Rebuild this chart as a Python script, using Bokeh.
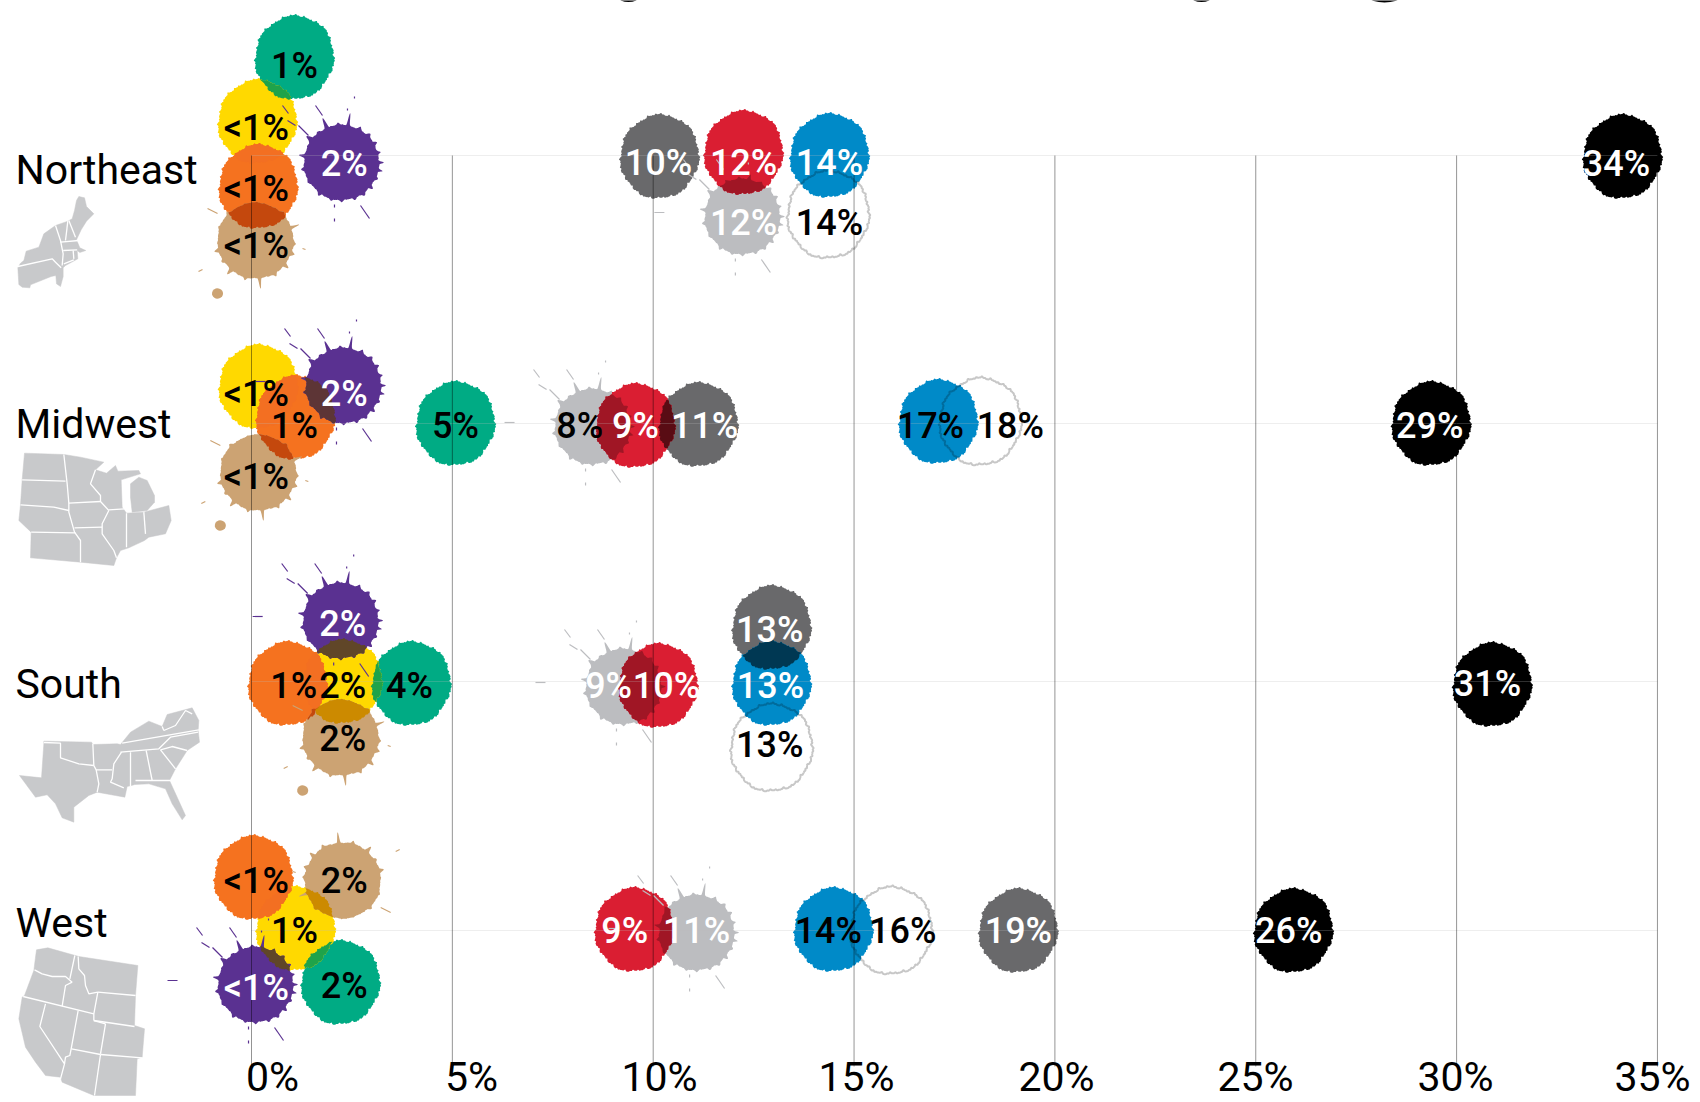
import numpy as np
from bokeh.plotting import figure
from bokeh.models import Range1d
from bokeh.core.properties import value
from bokeh.embed import file_html
from bokeh.resources import INLINE

# ---------- data ----------
series = ["green", "yellow", "orange", "tan", "purple", "ltgray", "gray", "red", "blue", "white", "black"]
regions = ["Northeast", "Midwest", "South", "West"]
tick_values = [0, 5, 10, 15, 20, 25, 30, 35]
tick_labels = ["0%", "5%", "10%", "15%", "20%", "25%", "30%", "35%"]

labels_ne = ["1%", "<1%", "<1%", "<1%", "2%", "12%", "10%", "12%", "14%", "14%", "34%"]
labels_mw = ["5%", "<1%", "1%", "<1%", "2%", "8%", "11%", "9%", "17%", "18%", "29%"]
labels_so = ["4%", "2%", "1%", "2%", "2%", "9%", "13%", "10%", "13%", "13%", "31%"]
labels_we = ["2%", "1%", "<1%", "2%", "<1%", "11%", "19%", "9%", "14%", "16%", "26%"]

values_ne = [1.07, 0.15, 0.17, 0.10, 2.24, 12.22, 10.16, 12.25, 14.39, 14.36, 34.13]
values_mw = [5.08, 0.17, 1.10, 0.17, 2.29, 8.49, 11.13, 9.56, 17.10, 18.15, 29.37]
values_so = [3.98, 2.27, 0.90, 2.22, 2.22, 9.26, 12.95, 10.13, 12.95, 12.95, 30.89]
values_we = [2.22, 1.10, 0.05, 2.27, 0.10, 11.08, 19.09, 9.53, 14.49, 15.93, 25.94]

# ---------- layout ----------
ROWS = [labels_ne, labels_mw, labels_so, labels_we]
VALS = [values_ne, values_mw, values_so, values_we]
BLOB_Y = [
    [57, 121, 186, 240, 162, 216, 156, 152, 155, 214, 156],
    [423, 386, 417, 472, 385, 426, 424, 425, 421, 421, 423],
    [683, 681, 683, 737, 620, 686, 627, 685, 683, 747, 684],
    [982, 928, 877, 880, 984, 932, 930, 929, 929, 930, 930],
]
LABEL_X = [
    [1.07, 0.12, 0.12, 0.12, 2.31, 12.25, 10.13, 12.25, 14.39, 14.39, 33.98],
    [5.08, 0.12, 1.07, 0.12, 2.31, 8.17, 11.28, 9.56, 16.90, 18.89, 29.33],
    [3.93, 2.27, 1.05, 2.27, 2.27, 8.89, 12.90, 10.33, 12.92, 12.90, 30.77],
    [2.31, 1.07, 0.12, 2.31, 0.12, 11.08, 19.09, 9.29, 14.36, 16.21, 25.82],
]
LABEL_Y = [
    [65, 127, 188, 245, 163, 222, 162, 162, 162, 222, 163],
    [425, 393, 425, 476, 393, 425, 425, 425, 425, 425, 425],
    [685, 685, 685, 738, 623, 685, 629, 685, 685, 744, 683],
    [985, 930, 880, 880, 987, 930, 930, 930, 930, 930, 930],
]
K, W = "black", "white"
LABEL_C = [
    [K, K, K, K, W, W, W, W, W, K, W],
    [K, K, K, K, W, K, W, W, K, K, W],
    [K, K, K, K, W, W, W, W, W, K, W],
    [K, K, K, K, W, W, W, W, K, K, W],
]
COL = dict(green="#00AB84", yellow="#FFD900", orange="#F5721F", tan="#CCA373", purple="#5A3191",
           ltgray="#BCBDC0", gray="#69696B", red="#DA1E32", blue="#008AC8", white="#FFFFFF", black="#000000")
OVERLAP_FIX = {("yellow", "orange"): "#F36F22", ("green", "yellow"): "#1FA34A"}
BASE_Y = [155, 423, 681, 930]
REGION_BASE = [183, 437, 697, 936]
TICK_CENTER_PX = [272, 471, 659, 856, 1056, 1255, 1455, 1652]
TICK_Y = 1076
X0, PXU = 251.0, 40.17
GREY_MAP = "#C8C9CB"
BASE_SHIFT_VAL = 12
BASE_SHIFT_BIG = 14


def xu(px):
    return (np.asarray(px, float) - X0) / PXU


def rgb(h):
    return np.array([int(h[i:i + 2], 16) for i in (1, 3, 5)], float)


def multiply(a, b):
    if (a, b) in OVERLAP_FIX:
        return OVERLAP_FIX[(a, b)]
    c = rgb(COL[a]) * rgb(COL[b]) / 255
    if "purple" in (a, b):
        c = c * 0.85 + np.array([20, 35, 40])
    return "#%02X%02X%02X" % tuple(int(v) for v in c)


# ---------- blot shapes (pixels round the centre) ----------
T = np.linspace(-np.pi, np.pi, 720, endpoint=False)


def rough(t, amp=1.0):
    return amp * (0.55 * np.sin(23 * t) + 0.5 * np.sin(37 * t + 1) + 0.4 * np.sin(61 * t + 2)
                  + 0.3 * np.sin(97 * t) + 0.9 * np.sin(7 * t + 0.5))


def spikes(t, lst):
    r = np.zeros_like(t)
    for a, ln, w in lst:
        d = (t - np.radians(a) + np.pi) % (2 * np.pi) - np.pi
        r += ln * np.exp(-(d / np.radians(w)) ** 2)
    return r


PURPLE_SPIKES = [(-80, 13, 1.6), (-113, 11, 2.2), (-143, 6, 3), (-62, 3.5, 2.5), (-45, 3, 2.5), (-30, 3, 2.5), (-15, 3.5, 2),
                 (0, 4.5, 1.8), (12, 4, 1.8), (25, 3, 2.5), (40, 3.5, 2.5), (55, 3, 2.5), (70, 2, 3), (90, 2.5, 3), (105, 2, 3),
                 (125, 3, 2.5), (150, 2, 3), (170, 3.5, 2.5), (-170, 6, 2), (-95, 2, 3), (-128, 2, 3)]
TAN_SPIKES = [(84, 11, 1.6), (-20, 9, 1.6), (165, 4, 2.5), (130, 6, 2.5), (40, 5, 2.5), (20, 3, 2.5), (60, 3, 2.5), (105, 3, 2.5),
              (148, 2, 3), (-160, 2, 3), (-135, 2, 3), (-45, 2, 3), (5, 2, 3)]
PURPLE_STREAKS = [[(-26, -57), (-19, -47)], [(-54, -42), (-46, -37)], [(-43, -37), (-33, -27)],
                  [(-59, -57), (-53, -49)], [(6, -54), (6, -52)], [(13, -66), (13, -64)], [(19, 43), (28, 56)],
                  [(-7, 42), (-7, 45)], [(-7, 56), (-7, 59)], [(-88, -4), (-78, -4)]]
TAN_STREAKS = [[(-48, -32), (-38, -27)], [(-57, 31), (-53, 29)], [(47, 8), (50, 9)]]


def sprite(name):
    if name in ("purple", "ltgray"):
        r = 37.5 + rough(T, 0.35) + spikes(T, PURPLE_SPIKES)
    elif name == "tan":
        r = 38 + rough(T, 0.35) + spikes(T, TAN_SPIKES)
    elif name == "white":
        r = 42 + 1.5 * np.cos(2 * (T + 1.4)) + rough(T, 0.8)
    else:
        r = 40.6 + 1.4 * np.cos(2 * (T + 1.35)) + rough(T, 0.85)
    return r * np.cos(T), r * np.sin(T)


def exit_t(ox, oy, dx, dy, px, py):
    """Distance to the first crossing along a ray, and the number of crossings."""
    qx, qy = np.roll(px, -1) - px, np.roll(py, -1) - py
    den = dx * qy - dy * qx
    den = np.where(np.abs(den) < 1e-12, 1e-12, den)
    t = ((px - ox) * qy - (py - oy) * qx) / den
    u = ((px - ox) * dy - (py - oy) * dx) / den
    ok = (t > 0) & (u >= 0) & (u < 1)
    return (t[ok].min() if ok.any() else 0.0), int(ok.sum())


def overlap(a, b):
    ax, ay = a
    bx, by = b
    cax, cay, cbx, cby = ax.mean(), ay.mean(), bx.mean(), by.mean()
    d = np.hypot(cbx - cax, cby - cay)
    if d > 82 or d < 1e-6:
        return None
    f = (40 + (d - 40)) / 2 / d
    ox, oy = cax + (cbx - cax) * f, cay + (cby - cay) * f
    xs, ys = [], []
    for th in np.linspace(0, 2 * np.pi, 180, endpoint=False):
        dx, dy = np.cos(th), np.sin(th)
        t1, n1 = exit_t(ox, oy, dx, dy, ax, ay)
        t2, n2 = exit_t(ox, oy, dx, dy, bx, by)
        if n1 % 2 == 0 or n2 % 2 == 0:
            return None
        t = min(t1, t2)
        xs.append(ox + t * dx)
        ys.append(oy + t * dy)
    return np.array(xs), np.array(ys)


# ---------- region silhouettes, page pixels (zoom-crop scale 3) ----------
def zoomed(pts, ox, oy, s=3.0):
    a = np.array(pts, float)
    return ox + a[:, 0] / s, oy + a[:, 1] / s


NE_OUT = [(205, 18), (222, 22), (228, 48), (250, 70), (228, 92), (212, 118), (198, 148), (208, 172), (226, 180), (208, 186),
          (200, 180), (202, 205), (165, 225), (158, 232), (158, 258), (150, 288), (138, 280), (136, 255), (122, 258),
          (60, 283), (58, 292), (35, 290), (25, 282), (22, 232), (30, 218), (40, 210), (47, 182), (85, 170), (100, 130),
          (135, 105), (172, 92), (185, 85), (192, 60), (198, 30)]
NE_SEP = [[(22, 228), (125, 205), (135, 215), (152, 232)], [(135, 105), (150, 150), (158, 190), (155, 225)],
          [(172, 92), (165, 150)], [(175, 90), (195, 140)], [(150, 155), (205, 150)], [(158, 180), (200, 178)],
          [(188, 180), (190, 205)], [(160, 220), (190, 208)]]
MW_OUT = [(72, 398), (190, 402), (240, 410), (310, 425), (285, 448), (318, 458), (345, 435), (352, 452), (415, 450),
          (420, 460), (362, 478), (365, 560), (378, 578), (430, 575), (505, 555), (512, 600), (495, 640), (445, 650),
          (432, 660), (385, 682), (360, 690), (348, 712), (340, 735), (240, 725), (90, 712), (92, 635), (55, 600),
          (60, 553), (65, 478)]
MW_MICH = [(390, 490), (415, 470), (440, 480), (462, 525), (462, 545), (440, 570), (395, 575), (390, 530)]
MW_SEP = [[(65, 478), (195, 482)], [(60, 553), (160, 560), (205, 570)], [(92, 635), (225, 637)], [(205, 548), (300, 543)],
          [(190, 402), (200, 490), (205, 548), (205, 575), (222, 635), (240, 660), (240, 725)], [(222, 622), (305, 620)],
          [(285, 448), (270, 490), (300, 525), (300, 543), (325, 570)], [(325, 568), (372, 565)],
          [(325, 570), (305, 610), (305, 640), (340, 690), (348, 712)], [(378, 578), (378, 680)], [(430, 575), (435, 640)]]
SO_OUT = [(85, 122), (228, 125), (232, 132), (305, 130), (315, 132), (345, 95), (400, 62), (440, 78), (455, 42), (500, 30),
          (530, 22), (550, 60), (548, 90), (552, 125), (515, 150), (480, 205), (462, 240), (510, 345), (500, 358),
          (470, 310), (450, 265), (400, 250), (358, 252), (348, 255), (335, 258), (328, 290), (300, 285), (245, 275),
          (220, 285), (175, 320), (175, 365), (140, 352), (120, 310), (95, 283), (60, 290), (12, 225), (78, 232), (85, 130)]
SO_SEP = [[(85, 126), (135, 128), (135, 172), (190, 190), (235, 195)], [(232, 130), (235, 195), (242, 208), (250, 250), (245, 275)],
          [(242, 208), (290, 208)], [(318, 155), (295, 190), (290, 235), (285, 245), (325, 262)], [(345, 155), (345, 258)],
          [(392, 150), (410, 240)], [(360, 240), (465, 240)], [(435, 148), (480, 205)], [(320, 128), (550, 88)],
          [(315, 155), (430, 145), (465, 110), (548, 95)], [(435, 148), (470, 138), (515, 150)], [(440, 78), (445, 90)],
          [(445, 90), (480, 75), (510, 30), (530, 40)]]
WE_OUT = [(112, 22), (205, 48), (382, 75), (375, 165), (372, 255), (402, 265), (395, 350), (380, 355), (375, 465), (250, 465),
          (155, 425), (150, 410), (105, 405), (75, 365), (45, 320), (25, 235), (35, 170), (42, 165), (70, 90), (75, 50), (78, 28)]
WE_SEP = [[(72, 88), (95, 100), (125, 108), (165, 108), (185, 125)], [(193, 45), (178, 115)],
          [(185, 125), (165, 135), (155, 197)], [(203, 48), (205, 85), (222, 105), (225, 135), (235, 160), (262, 155)],
          [(262, 155), (375, 165)], [(262, 155), (250, 220), (250, 240)], [(38, 168), (250, 220)],
          [(105, 190), (88, 258), (162, 370), (150, 415)], [(203, 210), (182, 325), (178, 345), (165, 350), (162, 370)],
          [(250, 240), (285, 250)], [(285, 250), (270, 340)], [(250, 240), (372, 258)], [(183, 325), (270, 342)],
          [(270, 342), (395, 352)], [(270, 342), (252, 465)]]
MAPS = [(NE_OUT, NE_SEP, 10, 190, None), (MW_OUT, MW_SEP, 0, 320, MW_MICH), (SO_OUT, SO_SEP, 15, 700, None), (WE_OUT, WE_SEP, 10, 940, None)]

# ---------- figure ----------
p = figure(width=1700, height=1102, output_backend="svg", toolbar_location=None, min_border=0,
           x_range=Range1d(float(xu(0)), float(xu(1700))), y_range=Range1d(1102, 0),
           x_axis_type="linear", outline_line_color=None, background_fill_color="white", border_fill_color="white")
p.axis.visible = False
p.grid.visible = False

# maps
mx, my, sx, sy = [], [], [], []
for out, sep, ox, oy, extra in MAPS:
    a, b = zoomed(out, ox, oy)
    mx.append(xu(a)); my.append(b)
    if extra:
        a, b = zoomed(extra, ox, oy)
        mx.append(xu(a)); my.append(b)
    for s in sep:
        a, b = zoomed(s, ox, oy)
        sx.append(xu(a)); sy.append(b)
p.patches(mx, my, fill_color=GREY_MAP, line_color=GREY_MAP, line_width=0.5)
p.multi_line(sx, sy, line_color="white", line_width=1.3)

# blots
fx, fy, fc, lx, ly, lc, dx, dy, dc, ox_, oy_, oc, wx, wy = [], [], [], [], [], [], [], [], [], [], [], [], [], []
for ri, (labs, vals) in enumerate(zip(ROWS, VALS)):
    shapes = {}
    for si, name in enumerate(series):
        cx = X0 + vals[si] * PXU
        cy = BLOB_Y[ri][si]
        flip = -1.0 if (name == "tan" and ri == 3) else 1.0
        sxs, sys = sprite(name)
        px_, py_ = cx + flip * sxs, cy + flip * sys
        if name == "white":
            wx.append(xu(px_)); wy.append(py_)
            continue
        shapes[name] = (px_, py_)
        fx.append(xu(px_)); fy.append(py_); fc.append(COL[name])
        if name in ("purple", "ltgray"):
            st = PURPLE_STREAKS
        elif name == "tan":
            st = TAN_STREAKS
            if ri != 3:
                th = np.linspace(0, 2 * np.pi, 24)
                dx.append(xu(cx + flip * (-38 + 5.5 * np.cos(th)))); dy.append(cy + flip * (53 + 5.2 * np.sin(th))); dc.append(COL[name])
        else:
            st = []
        for seg in st:
            a = np.array(seg, float)
            lx.append(xu(cx + flip * a[:, 0])); ly.append(cy + flip * a[:, 1]); lc.append(COL[name])
    names = list(shapes)
    for i in range(len(names)):
        for j in range(i + 1, len(names)):
            res = overlap(shapes[names[i]], shapes[names[j]])
            if res is not None:
                ox_.append(xu(res[0])); oy_.append(res[1]); oc.append(multiply(names[i], names[j]))

p.patches(fx, fy, fill_color=fc, line_color=None)
p.patches(dx, dy, fill_color=dc, line_color=None)
p.multi_line(lx, ly, line_color=lc, line_width=1.2)
p.patches(ox_, oy_, fill_color=oc, line_color=None)
p.patches(wx, wy, fill_alpha=0, line_color="black", line_alpha=0.22, line_width=2)

# rules
p.segment(x0=[0] * 4, x1=[35] * 4, y0=BASE_Y, y1=BASE_Y, line_color="#BDBDBD", line_alpha=0.25, line_width=1)
p.segment(x0=tick_values, x1=tick_values, y0=[155] * 8, y1=[1066] * 8, line_color="black", line_alpha=0.42, line_width=1)

# descender tips of the title cropped off by the top edge
title_tip_px = [628, 1201, 1384]
p.ellipse(x=[float(xu(v)) for v in title_tip_px], y=[-3, -3, -3], width=[0.5, 0.5, 0.75], height=[9, 9, 10],
          fill_color="black", line_color=None)

# texts
for ri, labs in enumerate(ROWS):
    p.text(x=LABEL_X[ri], y=[v + 12 - BASE_SHIFT_VAL for v in LABEL_Y[ri]], text=labs, text_color=LABEL_C[ri],
           text_font=value("Roboto Medium"), text_font_size="36px", text_align="center", text_baseline="alphabetic")
p.text(x=[float(xu(15))] * 4, y=[v - BASE_SHIFT_BIG for v in REGION_BASE], text=regions, text_color="black",
       text_font=value("Roboto"), text_font_size="41px", text_align="left", text_baseline="alphabetic")
p.text(x=[float(xu(v)) for v in TICK_CENTER_PX], y=[TICK_Y] * 8, text=tick_labels, text_color="black",
       text_font=value("Roboto"), text_font_size="41px", text_align="center", text_baseline="alphabetic")

open("out.html", "w").write(file_html(p, INLINE))
